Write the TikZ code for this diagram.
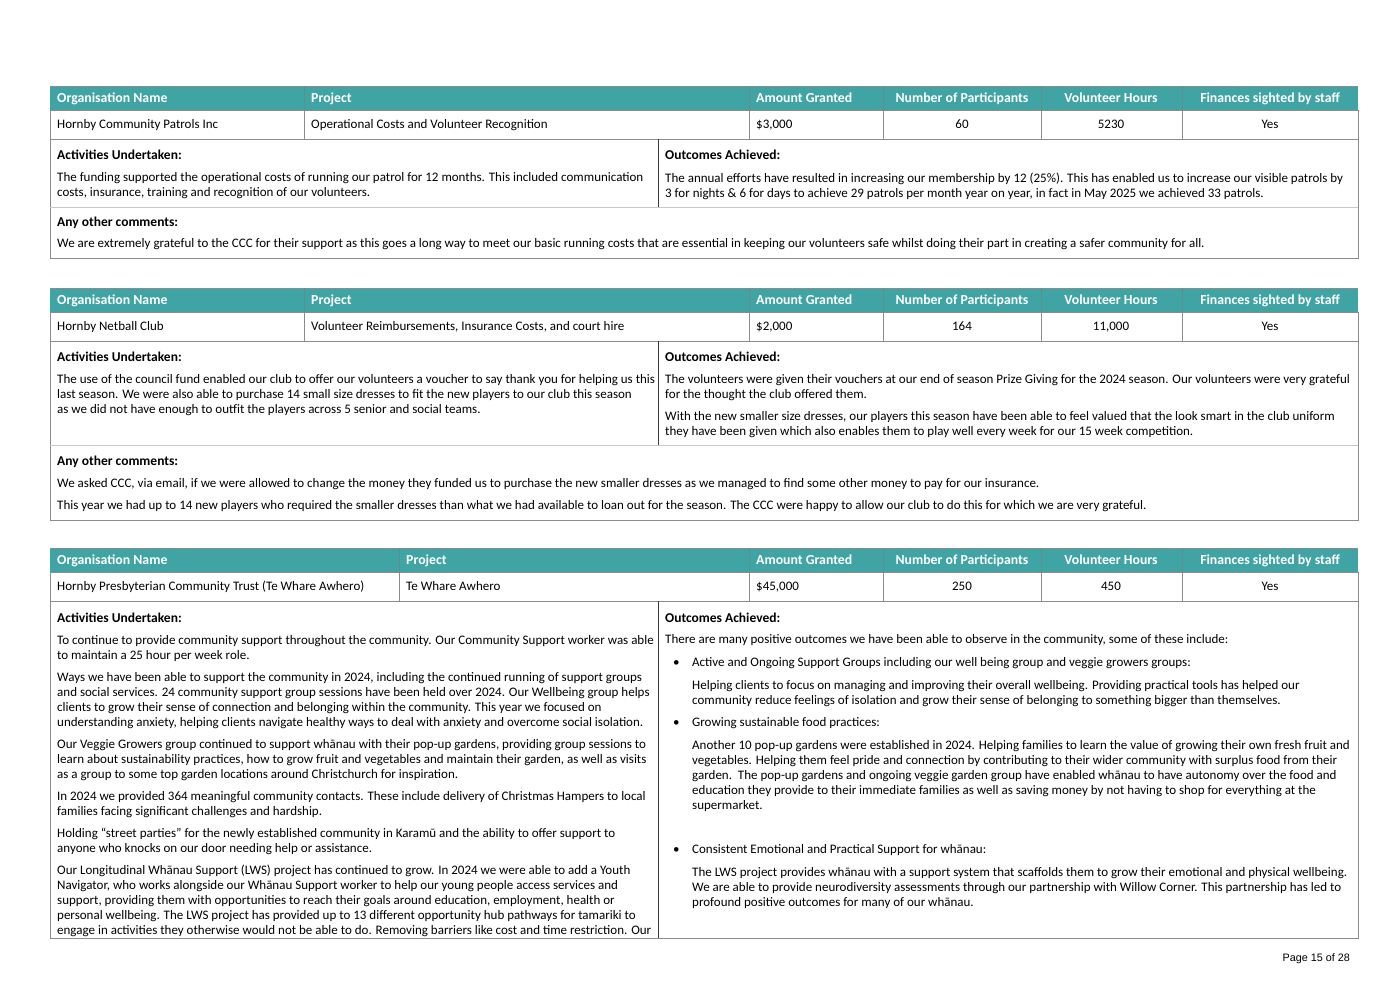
\documentclass[tikz,border=0pt]{standalone}
\usepackage{fontspec}
\setmainfont{Carlito}
\newfontfamily\footfont{Liberation Sans}
\definecolor{hdrteal}{HTML}{40A4A4}
\definecolor{hdrline}{HTML}{5E8F8F}
\definecolor{rulegray}{HTML}{8C8C8C}
\definecolor{lightrule}{HTML}{C8C8C8}
\definecolor{splitgray}{HTML}{3C3C3C}
\tikzset{
  hdrtxt/.style={anchor=base west,inner sep=0pt,text=white,font=\fontsize{13.8}{15}\selectfont\bfseries},
  hdrmid/.style={hdrtxt,anchor=base},
  celltxt/.style={anchor=base west,inner sep=0pt,font=\fontsize{13}{15}\selectfont},
  cellmid/.style={celltxt,anchor=base},
  headtxt/.style={celltxt,font=\fontsize{13.5}{15}\selectfont\bfseries},
  bodytxt/.style={celltxt,align=left,anchor=north west,yshift=7.5pt,execute at begin node=\strut},
}
% header row and data row of one grant table
% #1 name, #2 top, #3 project column, #4-#9 cell texts
\newcommand{\grantrows}[9]{%
  \fill[hdrteal] (50,#2) rectangle (1358,#2+24.5);
  \draw[rulegray] (50,#2) -- (1358,#2);
  \foreach \cx in {#3,749,883,1041,1182} \draw[hdrline] (\cx,#2) -- (\cx,#2+24.5);
  \draw[rulegray] (50,#2+24.5) rectangle (1358,#2+53);
  \foreach \cx in {#3,749,883,1041,1182} \draw[rulegray] (\cx,#2+24.5) -- (\cx,#2+53);
  \node[hdrtxt] (#1-h1) at (57,#2+16.5)   {Organisation Name};
  \node[hdrtxt] (#1-h2) at (#3+7,#2+16.5) {Project};
  \node[hdrtxt] (#1-h3) at (756,#2+16.5)  {Amount Granted};
  \node[hdrmid] (#1-h4) at (962,#2+16.5)  {Number of Participants};
  \node[hdrmid] (#1-h5) at (1111,#2+16.5) {Volunteer Hours};
  \node[hdrmid] (#1-h6) at (1270,#2+16.5) {Finances sighted by staff};
  \node[celltxt] (#1-d1) at (57,#2+42)   {#4};
  \node[celltxt] (#1-d2) at (#3+7,#2+42) {#5};
  \node[celltxt] (#1-d3) at (756,#2+42)  {#6};
  \node[cellmid] (#1-d4) at (962,#2+42)  {#7};
  \node[cellmid] (#1-d5) at (1111,#2+42) {#8};
  \node[cellmid] (#1-d6) at (1270,#2+42) {#9};
}
\begin{document}
\begin{tikzpicture}[x=1pt,y=-1pt]
    \useasboundingbox (0,0) rectangle (1398,989);
    \fill[white] (0,0) rectangle (1398,989);
    % Table 1 ====================================================
    \grantrows{ta}{86}{304}{Hornby Community Patrols Inc}{Operational Costs and Volunteer Recognition}{\$3,000}{60}{5230}{Yes}
    \draw[rulegray] (50,139) rectangle (1358,258);
    \draw[lightrule] (50,207) -- (1358,207);
    \draw[splitgray] (658,139) -- (658,207);
    \node[headtxt] (ta-act) at (57,159)  {Activities Undertaken:};
    \node[headtxt] (ta-out) at (665,159) {Outcomes Achieved:};
    \node[headtxt] (ta-com) at (57,226)  {Any other comments:};
    \node[bodytxt] (ta-actb) at (57,180) {The funding supported the operational costs of running our patrol for 12 months. This included communication\\
      costs, insurance, training and recognition of our volunteers.};
    \node[bodytxt] (ta-outb) at (665,180) {The annual efforts have resulted in increasing our membership by 12 (25\%). This has enabled us to increase our visible patrols by\\
      3 for nights \& 6 for days to achieve 29 patrols per month year on year, in fact in May 2025 we achieved 33 patrols.};
    \node[celltxt] (ta-comb) at (57,247) {We are extremely grateful to the CCC for their support as this goes a long way to meet our basic running costs that are essential in keeping our volunteers safe whilst doing their part in creating a safer community for all.};
    % Table 2 ====================================================
    \grantrows{tb}{288}{304}{Hornby Netball Club}{Volunteer Reimbursements, Insurance Costs, and court hire}{\$2,000}{164}{11,000}{Yes}
    \draw[rulegray] (50,341) rectangle (1358,520);
    \draw[lightrule] (50,445) -- (1358,445);
    \draw[splitgray] (658,341) -- (658,445);
    \node[headtxt] (tb-act) at (57,361)  {Activities Undertaken:};
    \node[headtxt] (tb-out) at (665,361) {Outcomes Achieved:};
    \node[headtxt] (tb-com) at (57,465)  {Any other comments:};
    \node[bodytxt] (tb-actb) at (57,382) {The use of the council fund enabled our club to offer our volunteers a voucher to say thank you for helping us this\\
      last season. We were also able to purchase 14 small size dresses to fit the new players to our club this season\\
      as we did not have enough to outfit the players across 5 senior and social teams.};
    \node[bodytxt] (tb-outb) at (665,382) {The volunteers were given their vouchers at our end of season Prize Giving for the 2024 season. Our volunteers were very grateful\\
      for the thought the club offered them.\\[7pt]
      With the new smaller size dresses, our players this season have been able to feel valued that the look smart in the club uniform\\
      they have been given which also enables them to play well every week for our 15 week competition.};
    \node[bodytxt] (tb-comb) at (57,486) {We asked CCC, via email, if we were allowed to change the money they funded us to purchase the new smaller dresses as we managed to find some other money to pay for our insurance.\\[7pt]
      This year we had up to 14 new players who required the smaller dresses than what we had available to loan out for the season. The CCC were happy to allow our club to do this for which we are very grateful.};
    % Table 3 ====================================================
    \grantrows{tc}{548}{399}{Hornby Presbyterian Community Trust (Te Whare Awhero)}{Te Whare Awhero}{\$45,000}{250}{450}{Yes}
    \draw[rulegray] (50,601) rectangle (1358,938);
    \draw[splitgray] (658,601) -- (658,938);
    \node[headtxt] (tc-act) at (57,622)  {Activities Undertaken:};
    \node[headtxt] (tc-out) at (665,622) {Outcomes Achieved:};
    \node[bodytxt] (tc-actb) at (57,643) {To continue to provide community support throughout the community. Our Community Support worker was able\\
      to maintain a 25 hour per week role.\\[7pt]
      Ways we have been able to support the community in 2024, including the continued running of support groups\\
      and social services. 24 community support group sessions have been held over 2024. Our Wellbeing group helps\\
      clients to grow their sense of connection and belonging within the community. This year we focused on\\
      understanding anxiety, helping clients navigate healthy ways to deal with anxiety and overcome social isolation.\\[7pt]
      Our Veggie Growers group continued to support whānau with their pop-up gardens, providing group sessions to\\
      learn about sustainability practices, how to grow fruit and vegetables and maintain their garden, as well as visits\\
      as a group to some top garden locations around Christchurch for inspiration.\\[7pt]
      In 2024 we provided 364 meaningful community contacts. These include delivery of Christmas Hampers to local\\
      families facing significant challenges and hardship.\\[7pt]
      Holding “street parties” for the newly established community in Karamū and the ability to offer support to\\
      anyone who knocks on our door needing help or assistance.\\[7pt]
      Our Longitudinal Whānau Support (LWS) project has continued to grow. In 2024 we were able to add a Youth\\
      Navigator, who works alongside our Whānau Support worker to help our young people access services and\\
      support, providing them with opportunities to reach their goals around education, employment, health or\\
      personal wellbeing. The LWS project has provided up to 13 different opportunity hub pathways for tamariki to\\
      engage in activities they otherwise would not be able to do. Removing barriers like cost and time restriction. Our};
    \node[celltxt] (tc-intro) at (665,643) {There are many positive outcomes we have been able to observe in the community, some of these include:};
    % bullets
    \foreach \by/\bn in {666/1,726/2,853/3} \node[celltxt] (tc-dot\bn) at (673,\by) {•};
    \node[celltxt] (tc-b1) at (692,666) {Active and Ongoing Support Groups including our well being group and veggie growers groups:};
    \node[bodytxt] (tc-b1t) at (692,688) {Helping clients to focus on managing and improving their overall wellbeing. Providing practical tools has helped our\\
      community reduce feelings of isolation and grow their sense of belonging to something bigger than themselves.};
    \node[celltxt] (tc-b2) at (692,726) {Growing sustainable food practices:};
    \node[bodytxt] (tc-b2t) at (692,748) {Another 10 pop-up gardens were established in 2024. Helping families to learn the value of growing their own fresh fruit and\\
      vegetables. Helping them feel pride and connection by contributing to their wider community with surplus food from their\\
      garden.\ \ The pop-up gardens and ongoing veggie garden group have enabled whānau to have autonomy over the food and\\
      education they provide to their immediate families as well as saving money by not having to shop for everything at the\\
      supermarket.};
    \node[celltxt] (tc-b3) at (692,853) {Consistent Emotional and Practical Support for whānau:};
    \node[bodytxt] (tc-b3t) at (692,875) {The LWS project provides whānau with a support system that scaffolds them to grow their emotional and physical wellbeing.\\
      We are able to provide neurodiversity assessments through our partnership with Willow Corner. This partnership has led to\\
      profound positive outcomes for many of our whānau.};
    % Footer
    \node[anchor=base east,inner sep=0pt,font=\footfont\fontsize{10.8}{13}\selectfont] (page) at (1350,961) {Page 15 of 28};
\end{tikzpicture}
\end{document}
